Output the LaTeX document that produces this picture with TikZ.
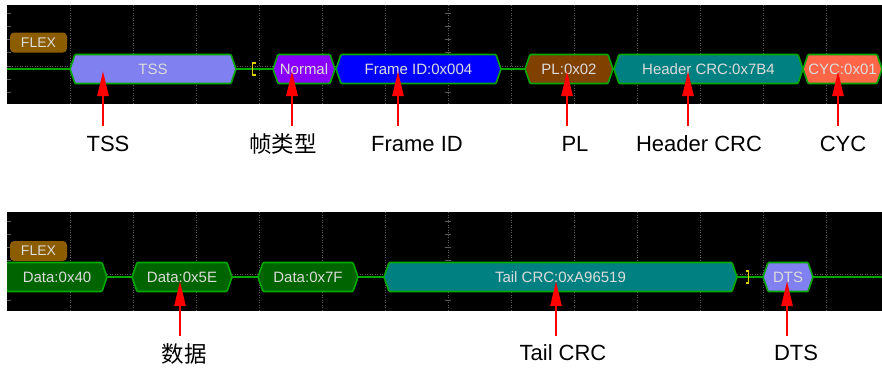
\documentclass[tikz,border=0pt]{standalone}
\usepackage{fontspec}
\setmainfont{Liberation Sans}
\newfontfamily\cjk{Noto Sans CJK SC}
\usetikzlibrary{arrows.meta}
\definecolor{tssc}{HTML}{8080F0}
\definecolor{normc}{HTML}{8A00FF}
\definecolor{fidc}{HTML}{0000FF}
\definecolor{plc}{HTML}{7F4000}
\definecolor{crcc}{HTML}{008080}
\definecolor{cycc}{HTML}{FF6648}
\definecolor{datac}{HTML}{006400}
\definecolor{edgec}{HTML}{00A800}
\definecolor{flexc}{HTML}{8C5C00}
\definecolor{txtc}{HTML}{DCDCDC}
\definecolor{gridc}{HTML}{5A5A5A}
\definecolor{brkc}{HTML}{E0D000}
\newcommand\hexbox[6]{%
  \draw[hexline,fill=#5] (#2,#4) -- (#2+5,#4-14.5) -- (#3-5,#4-14.5) -- (#3,#4)
    -- (#3-5,#4+14.5) -- (#2+5,#4+14.5) -- cycle;
  \node[boxtext] (#1) at ({(#2+#3)/2},#4) {#6};}
\newcommand\scopegrid[3]{%
  \fill[black] (7,#1) rectangle (882,#2);
  \foreach \gx in {70,133,...,826} \draw[gridline] (\gx,#1) -- (\gx,#2);
  \draw[gridline] (7,#3) -- (882,#3);
  \foreach \k in {-4,...,2} {
    \draw[tickline] (445,{#3+13.1*\k}) -- (451,{#3+13.1*\k});
    \draw[tickline] (7,{#3+13.1*\k}) -- (11,{#3+13.1*\k});}}
\begin{document}
\begin{tikzpicture}[x=1pt,y=-1pt,
  hexline/.style={draw=edgec,line width=1.6pt,rounded corners=1pt},
  boxtext/.style={text=txtc,font=\fontsize{15}{15}\selectfont,inner sep=0pt},
  gridline/.style={draw=gridc,line width=0.9pt,dash pattern=on 1pt off 1.5pt},
  tickline/.style={draw=gridc,line width=0.9pt},
  trace/.style={draw=edgec,line width=1.6pt},
  bracket/.style={draw=brkc,line width=1.5pt},
  flex/.style={fill=flexc,rounded corners=4pt,minimum width=57pt,minimum height=20pt,
    inner sep=0pt,text=txtc,font=\fontsize{14}{14}\selectfont},
  redarrow/.style={draw=red,line width=2.6pt,-{Triangle[length=25pt,width=11pt]}},
  lbl/.style={text=black,font=\fontsize{22}{22}\selectfont,inner sep=0pt},
  cjklbl/.style={text=black,font=\cjk\fontsize{22.5}{22.5}\selectfont,inner sep=0pt}]
\useasboundingbox (0,0) rectangle (882,368);
\fill[white] (0,0) rectangle (882,368);

% ---------------- top panel ----------------
\scopegrid{5}{104}{66}
\draw[trace] (7,69) -- (882,69);
\begin{scope}
  \clip (7,5) rectangle (882,104);
  \hexbox{tss}{70}{236}{69}{tssc}{TSS}
  \hexbox{norm}{273}{335}{69}{normc}{Normal}
  \hexbox{fid}{336}{501}{69}{fidc}{Frame ID:0x004}
  \hexbox{pl}{525}{613}{69}{plc}{PL:0x02}
  \hexbox{hcrc}{614}{803}{69}{crcc}{Header CRC:0x7B4}
  \hexbox{cyc}{803}{882}{69}{cycc}{CYC:0x01}
\end{scope}
\draw[bracket] (255.5,63) -- (252.5,63) -- (252.5,75) -- (255.5,75);
\node[flex] (flex1) at (38.5,42.5) {FLEX};

% ---------------- bottom panel ----------------
\scopegrid{212}{311}{274}
\draw[trace] (7,277) -- (882,277);
\begin{scope}
  \clip (7,212) rectangle (882,311);
  \hexbox{d40x}{2}{107}{277}{datac}{}
  \hexbox{d5e}{132}{232}{277}{datac}{Data:0x5E}
  \hexbox{d7f}{258}{358}{277}{datac}{Data:0x7F}
  \hexbox{tcrc}{384}{737}{277}{crcc}{Tail CRC:0xA96519}
  \hexbox{dts}{763}{813}{277}{tssc}{DTS}
\end{scope}
\node[boxtext] (d40) at (57,277) {Data:0x40};
\draw[bracket] (745.5,271) -- (748.5,271) -- (748.5,283) -- (745.5,283);
\node[flex] (flex2) at (38.5,251) {FLEX};

% ---------------- arrows ----------------
\foreach \n/\ax in {1/103,2/292,3/398,4/567,5/688,6/838} {
  \coordinate (ts\n) at (\ax,126);
  \coordinate (th\n) at (\ax,71);
  \draw[redarrow] (ts\n) -- (th\n);}
\foreach \n/\ax in {1/180,2/556,3/787} {
  \coordinate (bs\n) at (\ax,336);
  \coordinate (bh\n) at (\ax,281);
  \draw[redarrow] (bs\n) -- (bh\n);}

% ---------------- labels ----------------
\node[lbl] (lt1) at (108,144) {TSS};
\node[cjklbl] (lt2) at (283,144) {帧类型};
\node[lbl] (lt3) at (417,144) {Frame ID};
\node[lbl] (lt4) at (575,144) {PL};
\node[lbl] (lt5) at (699,144) {Header CRC};
\node[lbl] (lt6) at (843,144) {CYC};
\node[cjklbl] (lb1) at (184,354) {数据};
\node[lbl] (lb2) at (563,353) {Tail CRC};
\node[lbl] (lb3) at (796,353) {DTS};
\end{tikzpicture}
\end{document}
